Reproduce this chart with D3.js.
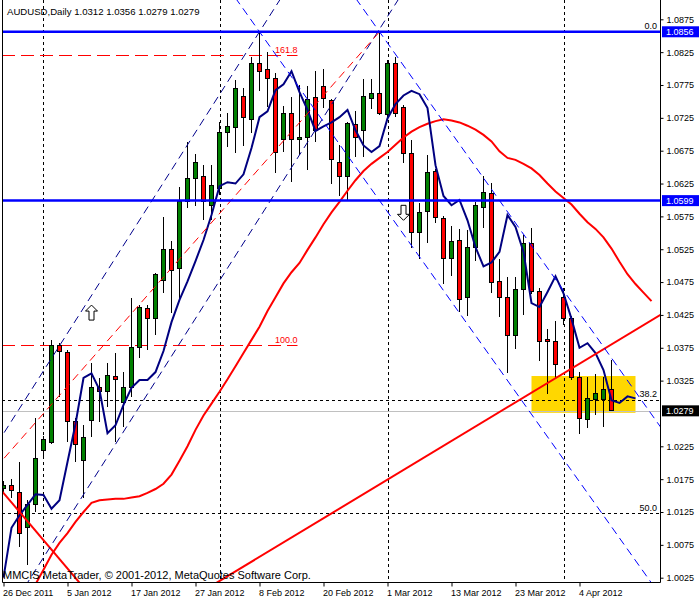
<!DOCTYPE html>
<html><head><meta charset="utf-8">
<script src="https://cdn.jsdelivr.net/npm/d3@7"></script>
<style>
body{margin:0;background:#fff;}
svg{display:block;}
text{font-family:"Liberation Sans",Arial,sans-serif;}
</style></head><body>
<svg id="c" width="700" height="600"></svg>
<script>
// ---------------- data ----------------
const symbol = "AUDUSD", period = "Daily";
const dates = ["2011-12-26","2011-12-27","2011-12-28","2011-12-29","2011-12-30",
"2012-01-02","2012-01-03","2012-01-04","2012-01-05","2012-01-06",
"2012-01-09","2012-01-10","2012-01-11","2012-01-12","2012-01-13",
"2012-01-16","2012-01-17","2012-01-18","2012-01-19","2012-01-20",
"2012-01-23","2012-01-24","2012-01-25","2012-01-26","2012-01-27",
"2012-01-30","2012-01-31","2012-02-01","2012-02-02","2012-02-03",
"2012-02-06","2012-02-07","2012-02-08","2012-02-09","2012-02-10",
"2012-02-13","2012-02-14","2012-02-15","2012-02-16","2012-02-17",
"2012-02-20","2012-02-21","2012-02-22","2012-02-23","2012-02-24",
"2012-02-27","2012-02-28","2012-02-29","2012-03-01","2012-03-02",
"2012-03-05","2012-03-06","2012-03-07","2012-03-08","2012-03-09",
"2012-03-12","2012-03-13","2012-03-14","2012-03-15","2012-03-16",
"2012-03-19","2012-03-20","2012-03-21","2012-03-22","2012-03-23",
"2012-03-26","2012-03-27","2012-03-28","2012-03-29","2012-03-30",
"2012-04-02","2012-04-03","2012-04-04","2012-04-05","2012-04-06",
"2012-04-09","2012-04-10"];
const open = [1.0161,1.0165,1.0155,1.0101,1.0136,1.0218,1.0231,1.0378,1.0368,1.0263,
1.0204,1.0265,1.0314,1.0309,1.0332,1.0291,1.0314,1.0375,1.0435,1.0420,
1.0478,1.0525,1.0495,1.0598,1.0633,1.0636,1.0592,1.0618,1.0703,1.0711,
1.0758,1.0723,1.0808,1.0799,1.0785,1.0692,1.0732,1.0692,1.0695,1.0756,
1.0772,1.0752,1.0657,1.0636,1.0715,1.0706,1.0755,1.0762,1.0730,1.0808,
1.0741,1.0671,1.0551,1.0583,1.0644,1.0572,1.0511,1.0539,1.0451,1.0527,
1.0589,1.0610,1.0476,1.0451,1.0394,1.0464,1.0534,1.0460,1.0388,1.0385,
1.0451,1.0419,1.0330,1.0266,1.0297,1.0297,1.0312];
const high = [1.0172,1.0175,1.0201,1.0143,1.0268,1.0241,1.0387,1.0382,1.0371,1.0268,
1.0257,1.0352,1.0329,1.0352,1.0367,1.0338,1.0451,1.0440,1.0440,1.0489,
1.0574,1.0537,1.0619,1.0688,1.0670,1.0653,1.0653,1.0718,1.0732,1.0782,
1.0770,1.0817,1.0856,1.0825,1.0793,1.0743,1.0756,1.0775,1.0773,1.0796,
1.0799,1.0753,1.0683,1.0718,1.0735,1.0784,1.0784,1.0856,1.0813,1.0817,
1.0744,1.0691,1.0595,1.0668,1.0647,1.0575,1.0560,1.0556,1.0554,1.0597,
1.0636,1.0626,1.0510,1.0483,1.0483,1.0546,1.0557,1.0466,1.0403,1.0416,
1.0466,1.0423,1.0338,1.0330,1.0335,1.0330,1.0356];
const low = [1.0155,1.0146,1.0072,1.0044,1.0125,1.0210,1.0228,1.0300,1.0231,1.0201,
1.0146,1.0239,1.0262,1.0285,1.0231,1.0254,1.0300,1.0359,1.0371,1.0394,
1.0458,1.0428,1.0448,1.0588,1.0591,1.0569,1.0569,1.0607,1.0680,1.0671,
1.0682,1.0702,1.0766,1.0741,1.0641,1.0673,1.0627,1.0668,1.0645,1.0688,
1.0740,1.0624,1.0606,1.0600,1.0665,1.0665,1.0738,1.0729,1.0721,1.0726,
1.0656,1.0527,1.0510,1.0534,1.0565,1.0472,1.0484,1.0429,1.0423,1.0507,
1.0557,1.0458,1.0422,1.0336,1.0373,1.0425,1.0457,1.0355,1.0305,1.0329,
1.0410,1.0326,1.0244,1.0253,1.0273,1.0254,1.0279];
const close = [1.0165,1.0157,1.0093,1.0137,1.0206,1.0235,1.0378,1.0370,1.0263,1.0228,
1.0239,1.0314,1.0309,1.0333,1.0327,1.0314,1.0376,1.0437,1.0419,1.0486,
1.0524,1.0493,1.0597,1.0632,1.0657,1.0598,1.0622,1.0703,1.0712,1.0770,
1.0726,1.0808,1.0796,1.0785,1.0673,1.0731,1.0692,1.0695,1.0753,1.0706,
1.0755,1.0661,1.0636,1.0717,1.0695,1.0758,1.0762,1.0732,1.0808,1.0732,
1.0670,1.0551,1.0581,1.0642,1.0574,1.0511,1.0537,1.0449,1.0528,1.0591,
1.0612,1.0475,1.0451,1.0394,1.0464,1.0534,1.0460,1.0385,1.0384,1.0349,
1.0419,1.0329,1.0268,1.0298,1.0306,1.0312,1.0279];

// fast MA (navy), first value belongs to bar -3, drawn shifted +3 bars
const maFastStart = -3, maFastShift = 3;
const maFast = [1.0025,1.0101,1.0120,1.0136,1.0152,1.0151,1.0130,1.0143,1.0201,1.0259,
1.0329,1.0336,1.0311,1.0245,1.0257,1.0288,1.0314,1.0326,1.0326,1.0338,
1.0370,1.0414,1.0448,1.0476,1.0507,1.0539,1.0577,1.0621,1.0627,1.0625,
1.0639,1.0679,1.0726,1.0735,1.0767,1.0776,1.0796,1.0764,1.0737,1.0705,
1.0712,1.0718,1.0726,1.0737,1.0706,1.0683,1.0673,1.0682,1.0724,1.0746,
1.0759,1.0766,1.0761,1.0740,1.0653,1.0606,1.0592,1.0600,1.0569,1.0528,
1.0499,1.0505,1.0521,1.0577,1.0559,1.0521,1.0443,1.0437,1.0460,1.0484,
1.0458,1.0419,1.0375,1.0382,1.0367,1.0341,1.0295,1.0291,1.0301,1.0298];
// slow MA (red), first value belongs to bar -2, drawn shifted +5 bars
const maSlowStart = -2, maSlowShift = 5;
const maSlow = [0.9994,1.0015,
1.0037,1.0060,1.0078,1.0093,1.0110,1.0125,1.0139,1.0143,1.0144,1.0145,
1.0145,1.0147,1.0149,1.0154,1.0160,1.0168,1.0182,1.0203,1.0225,1.0250,
1.0272,1.0290,1.0308,1.0327,1.0347,1.0367,1.0387,1.0407,1.0431,1.0452,
1.0473,1.0490,1.0504,1.0524,1.0543,1.0563,1.0581,1.0597,1.0614,1.0630,
1.0644,1.0655,1.0664,1.0673,1.0684,1.0695,1.0704,1.0711,1.0716,1.0720,
1.0723,1.0721,1.0718,1.0713,1.0707,1.0699,1.0689,1.0674,1.0664,1.0661,
1.0655,1.0648,1.0638,1.0625,1.0613,1.0603,1.0593,1.0579,1.0566,1.0556,
1.0543,1.0526,1.0506,1.0487,1.0472,1.0459,1.0446];

const priceTicks = [1.0875,1.0825,1.0775,1.0725,1.0675,1.0625,1.0575,1.0525,1.0475,1.0425,1.0375,1.0325,1.0275,1.0225,1.0175,1.0125,1.0075,1.0025];
const dateTickIdx = [0,8,16,24,32,40,48,56,64,72];
const separatorIdx = [5,27,48,70];

const hLines = [1.0856, 1.0599];
const fiboRet = [{label:"0.0",price:1.0856},{label:"38.2",price:1.0296},{label:"50.0",price:1.0123}];
const fiboExp = [{label:"161.8",price:1.0820},{label:"100.0",price:1.0379}];
const fiboExpSpan = [-1, 36.75];

// trend lines: anchors [barIndex, price]
const rayLines = [
  {a:[30,1.0042], b:[70,1.0336], color:"#ff0000", w:2, dash:null},
  {a:[0,1.0154],  b:[8,1.0039],  color:"#ff0000", w:2, dash:null},
  {a:[6,1.0359],  b:[32,1.0856], color:"#00008b", w:1, dash:"8,5"},
  {a:[20,1.0343], b:[40,1.0726], color:"#00008b", w:1, dash:"8,5"},
  {a:[32,1.0856], b:[64,1.0308], color:"#0000ff", w:1, dash:"8,5"},
  {a:[47,1.0856], b:[79,1.0308], color:"#0000ff", w:1, dash:"8,5"}
];
const segLines = [
  {a:[-1,1.0192], b:[47,1.0856], color:"#ff0000", w:1, dash:"8,5"}
];
const zone = {i0:66, i1:79, top:1.0332, bottom:1.0276};
const arrows = [{i:11, price:1.0440, dir:"up"},{i:50, price:1.0569, dir:"down"}];

// ---------------- drawing ----------------
const svg = d3.select("#c");
const L = 2, R = 660, T = 0, B = 582;
const x = d3.scaleLinear().domain([0,76]).range([3.5,611.5]);
const y = d3.scaleLinear().domain([1.0025,1.0875]).range([577.7,19.3]);
const parse = d3.timeParse("%Y-%m-%d"), fmt = d3.timeFormat("%-d %b %Y");

svg.append("rect").attr("width",700).attr("height",600).attr("fill","#fff");
svg.append("defs").append("clipPath").attr("id","clip")
  .append("rect").attr("x",L).attr("y",T).attr("width",R-L).attr("height",B-T);
const g = svg.append("g").attr("clip-path","url(#clip)");

// zone rectangle (background)
g.append("rect").attr("x",x(zone.i0)).attr("width",x(zone.i1)-x(zone.i0))
  .attr("y",y(zone.top)).attr("height",y(zone.bottom)-y(zone.top)).attr("fill","#ffd700");

// separators
g.selectAll(".sep").data(separatorIdx).join("line")
  .attr("x1",d=>Math.round(x(d))+0.5).attr("x2",d=>Math.round(x(d))+0.5)
  .attr("y1",T).attr("y2",B).attr("stroke","#000").attr("stroke-dasharray","3,3");

// bid line
const bid = close[close.length-1];
g.append("line").attr("x1",L).attr("x2",R).attr("y1",Math.round(y(bid))+0.5).attr("y2",Math.round(y(bid))+0.5)
  .attr("stroke","#c0c0c0");

// fibo retracement levels
g.selectAll(".fr").data(fiboRet).join("line")
  .attr("x1",L).attr("x2",R).attr("y1",d=>Math.round(y(d.price))+0.5).attr("y2",d=>Math.round(y(d.price))+0.5)
  .attr("stroke","#000").attr("stroke-dasharray","3,3");
// fibo expansion levels
g.selectAll(".fe").data(fiboExp).join("line")
  .attr("x1",L).attr("x2",x(fiboExpSpan[1])).attr("y1",d=>Math.round(y(d.price))+0.5).attr("y2",d=>Math.round(y(d.price))+0.5)
  .attr("stroke","#ff0000").attr("stroke-dasharray","13,6");

// candles
const bars = dates.map((d,i)=>({i,o:open[i],h:high[i],l:low[i],c:close[i]}));
const cg = g.append("g").attr("shape-rendering","crispEdges");
cg.selectAll(".wick").data(bars).join("line")
  .attr("x1",d=>x(d.i)).attr("x2",d=>x(d.i)).attr("y1",d=>y(d.h)).attr("y2",d=>y(d.l)).attr("stroke","#000");
cg.selectAll(".body").data(bars).join("rect")
  .attr("x",d=>x(d.i)-2).attr("width",4)
  .attr("y",d=>y(Math.max(d.o,d.c))).attr("height",d=>Math.max(1,Math.abs(y(d.o)-y(d.c))))
  .attr("fill",d=>d.c>=d.o?"#008000":"#ff0000").attr("stroke","#000");

// moving averages
const line = d3.line().x(d=>x(d.p)).y(d=>y(d.v));
const slowPts = maSlow.map((v,k)=>({p:k+maSlowStart+maSlowShift, v}));
const fastPts = maFast.map((v,k)=>({p:k+maFastStart+maFastShift, v}));
g.append("path").attr("d",line(slowPts)).attr("fill","none").attr("stroke","#ff0000").attr("stroke-width",2);
g.append("path").attr("d",line(fastPts)).attr("fill","none").attr("stroke","#000080").attr("stroke-width",2);

// trend lines
function extend(l){
  const s=(l.b[1]-l.a[1])/(l.b[0]-l.a[0]);
  return [{p:-20, v:l.a[1]+(-20-l.a[0])*s},{p:120, v:l.a[1]+(120-l.a[0])*s}];
}
rayLines.forEach(l=>{
  g.append("path").attr("d",line(extend(l))).attr("fill","none").attr("stroke",l.color)
   .attr("stroke-width",l.w).attr("stroke-dasharray",l.dash);
});
segLines.forEach(l=>{
  g.append("path").attr("d",line([{p:l.a[0],v:l.a[1]},{p:l.b[0],v:l.b[1]}])).attr("fill","none")
   .attr("stroke",l.color).attr("stroke-width",l.w).attr("stroke-dasharray",l.dash);
});

// horizontal lines
g.selectAll(".hl").data(hLines).join("line")
  .attr("x1",L).attr("x2",R).attr("y1",d=>y(d)).attr("y2",d=>y(d)).attr("stroke","#0000ff").attr("stroke-width",2.5);

// arrows
arrows.forEach(a=>{
  const cx=x(a.i), t=y(a.price);
  const s = a.dir==="up"?1:-1;
  const pts=[[0,0],[6,6],[2.5,6],[2.5,15],[-2.5,15],[-2.5,6],[-6,6]].map(p=>[cx+p[0],t+s*p[1]]);
  g.append("path").attr("d","M"+pts.join("L")+"Z").attr("fill","#fff").attr("stroke","#000");
});

// fibo labels
svg.selectAll(".frl").data(fiboRet).join("text")
  .attr("x",657).attr("y",d=>y(d.price)-2.5).attr("text-anchor","end")
  .attr("font-size","9px").attr("fill","#000").text(d=>d.label);
svg.selectAll(".fel").data(fiboExp).join("text")
  .attr("x",x(fiboExpSpan[1])).attr("y",d=>y(d.price)-2.5).attr("text-anchor","end")
  .attr("font-size","9px").attr("fill","#ff0000").text(d=>d.label);

// frame
svg.append("path").attr("d",`M${L+0.5},${T}V${B+0.5}H${R+0.5}V${T}`).attr("fill","none").attr("stroke","#000");

// right axis
const bidY = y(bid);
const ya = svg.append("g").attr("transform",`translate(${R+0.5},0)`)
  .call(d3.axisRight(y).tickValues(priceTicks.filter(t=>Math.abs(y(t)-bidY)>8)).tickSize(3).tickPadding(3).tickFormat(d3.format(".4f")));
ya.select(".domain").remove();
ya.selectAll("text").attr("font-size","9px").attr("font-family","Liberation Sans, Arial, sans-serif").attr("fill","#000");
ya.selectAll("line").attr("stroke","#000");

// price label boxes
const boxes = hLines.map(p=>({p, bg:"#0000ff"})).concat([{p:bid,bg:"#000"}]);
const bx = svg.selectAll(".box").data(boxes).join("g");
bx.append("rect").attr("x",R+2).attr("y",d=>y(d.p)-5.5).attr("width",37).attr("height",11).attr("fill",d=>d.bg);
bx.append("text").attr("x",R+6).attr("y",d=>y(d.p)).attr("dy","0.33em").attr("font-size","9px")
  .attr("fill","#fff").text(d=>d.p.toFixed(4));

// bottom axis
const xa = svg.append("g").attr("transform",`translate(0,${B+0.5})`)
  .call(d3.axisBottom(x).tickValues(dateTickIdx).tickSize(4).tickPadding(3).tickFormat(i=>fmt(parse(dates[i]))));
xa.select(".domain").remove();
xa.selectAll("text").attr("font-size","9px").attr("font-family","Liberation Sans, Arial, sans-serif")
  .attr("text-anchor","start").attr("x",-1).attr("fill","#000");
xa.selectAll("line").attr("stroke","#000");

// title & copyright
const last = bars[bars.length-1];
svg.append("text").attr("x",7).attr("y",14.5).attr("font-size","9.6px").attr("fill","#000")
  .text(`${symbol},${period}  ${last.o.toFixed(4)} ${last.h.toFixed(4)} ${last.l.toFixed(4)} ${last.c.toFixed(4)}`);
svg.append("text").attr("x",3).attr("y",578.5).attr("font-size","11px").attr("fill","#000")
  .text("MMCIS MetaTrader, © 2001-2012, MetaQuotes Software Corp.");
</script></body></html>
